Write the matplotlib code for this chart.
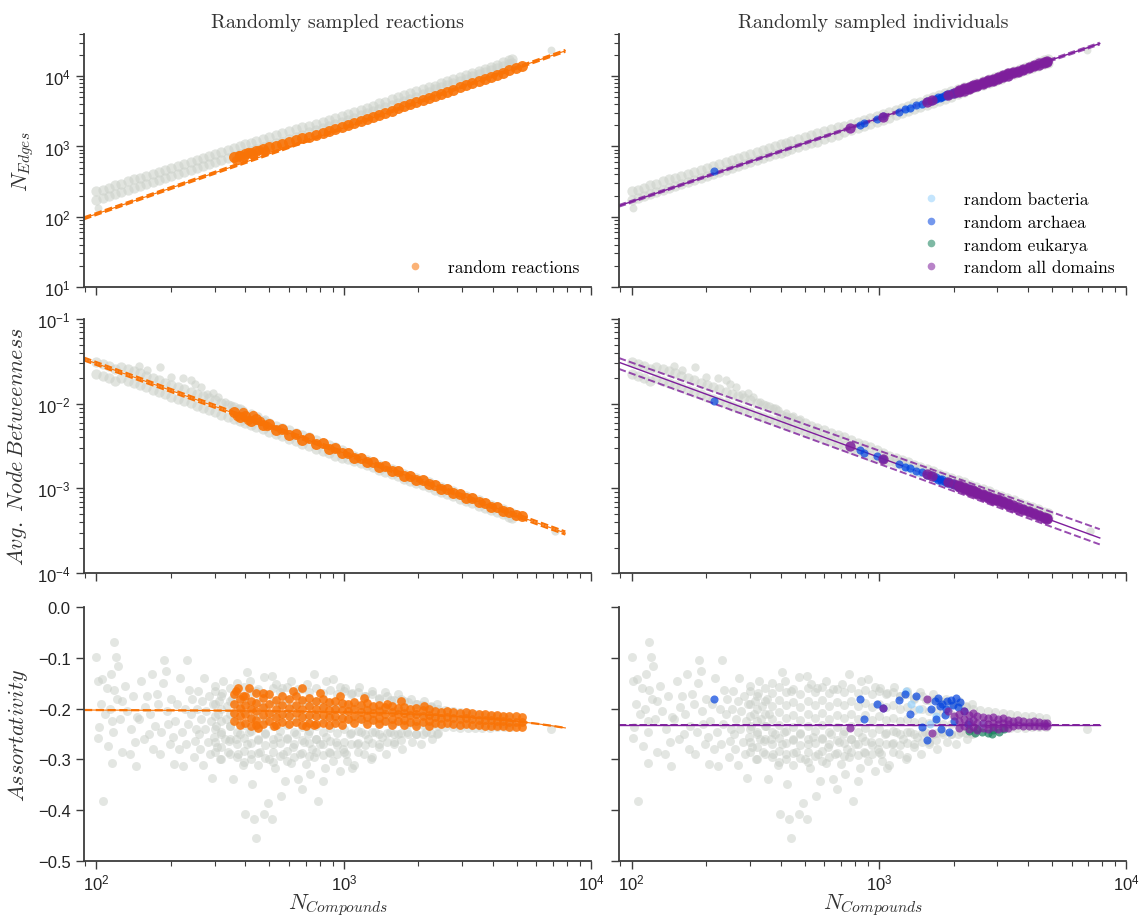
import matplotlib
matplotlib.use('Agg')
import matplotlib.pyplot as plt
from matplotlib.lines import Line2D
from matplotlib.ticker import MultipleLocator

plt.rcParams['font.family'] = ['Liberation Sans', 'DejaVu Sans']
plt.rcParams['mathtext.fontset'] = 'cm'
plt.rcParams['axes.unicode_minus'] = True

# ---------------- data ----------------
# gray background: all sampled networks, N_compounds vs metric (two rows of the band)
gray_x = [100, 106, 112, 119, 126, 134, 142, 150, 159, 169, 179, 190, 201, 213, 226, 240, 254, 269, 285, 302, 320, 340,
          360, 380, 400, 420, 440, 470, 500, 530, 560, 600, 640, 680, 720, 770, 820, 870, 920, 980,
          1040, 1100, 1170, 1240, 1310, 1390, 1470, 1560, 1650, 1750, 1850, 1960, 2080, 2200, 2330, 2470, 2620, 2770,
          2940, 3110, 3300, 3500, 3700, 3920, 4150, 4400, 4660, 4800]
gray_edges = [229, 185, 260, 211, 296, 241, 339, 274, 385, 313, 440, 356, 500, 405, 570, 463, 652, 527, 741, 600, 843, 684,
              959, 773, 1076, 861, 1194, 973, 1371, 1107, 1549, 1265, 1791, 1452, 1941, 1734, 2234, 1982, 2529, 2249,
              2884, 2564, 3327, 2965, 3802, 3404, 4365, 3908, 5012, 4487, 5754, 5129, 6637, 5888, 7328, 7031, 8453, 8035,
              9705, 9268, 11170, 10670, 12790, 12220, 14690, 14030, 16870, 15560]
gray_edges2 = [174, 244, 197, 279, 225, 318, 257, 361, 292, 412, 333, 470, 379, 533, 433, 611, 494, 695, 562, 791, 640, 902,
               728, 1019, 817, 1135, 906, 1282, 1040, 1459, 1175, 1667, 1358, 1914, 1614, 2084, 1858, 2382, 2104, 2704,
               2399, 3083, 2767, 3565, 3162, 4093, 3631, 4699, 4169, 5395, 4786, 6166, 5521, 7079, 6531, 7889, 7534,
               9016, 8650, 10400, 9954, 11970, 11400, 13710, 13090, 15740, 15030, 17460]
gray_btw = [0.0313, 0.0213, 0.0277, 0.0188, 0.0275, 0.0187, 0.0243, 0.0166, 0.0215, 0.0146, 0.0190, 0.0129, 0.0168,
            0.01146, 0.01486, 0.01009, 0.01312, 0.00895, 0.01161, 0.00793, 0.01030, 0.00700,
            0.00910, 0.00622, 0.00743, 0.00560, 0.00671, 0.00498, 0.00586, 0.00439, 0.00521, 0.00385, 0.00452, 0.00337,
            0.00400, 0.00296, 0.00348, 0.00259, 0.00308, 0.00229,
            0.00259, 0.00213, 0.00229, 0.00188, 0.00203, 0.00166, 0.00180, 0.00147, 0.00159, 0.00130, 0.00141, 0.00116,
            0.00125, 0.001026, 0.001107, 0.000906, 0.000977, 0.000804, 0.000867, 0.000710, 0.000766, 0.000628,
            0.000679, 0.000557, 0.000603, 0.000493, 0.000533, 0.000450]
gray_btw2 = [0.0226, 0.0294, 0.0201, 0.0260, 0.0200, 0.0258, 0.0176, 0.0229, 0.0156, 0.0202, 0.01374, 0.01782, 0.01219,
             0.01581, 0.01076, 0.01393, 0.00951, 0.01236, 0.00841, 0.01094, 0.00746, 0.00966,
             0.00659, 0.00859, 0.00590, 0.00705, 0.00533, 0.00627, 0.00466, 0.00552, 0.00414, 0.00484, 0.00359,
             0.00424, 0.00318, 0.00372, 0.00277, 0.00327, 0.00245, 0.00288,
             0.00225, 0.00244, 0.00199, 0.00215, 0.00177, 0.00191, 0.00157, 0.00169, 0.00139, 0.00150, 0.00123,
             0.00133, 0.001086, 0.001178, 0.000964, 0.00104, 0.000851, 0.000923, 0.000755, 0.000815, 0.000667,
             0.000721, 0.000592, 0.000640, 0.000525, 0.000566, 0.000465, 0.000516]
gray_edges_extra_x = [101, 6900]
gray_edges_extra_y = [132, 24000]
gray_btw_extra_x = [148, 160, 181, 200, 224, 240, 251, 265, 279, 295, 309, 330, 350, 372, 390, 420, 450, 480, 7100]
gray_btw_extra_y = [0.028, 0.025, 0.027, 0.021, 0.0204, 0.019, 0.0171, 0.016, 0.0130, 0.0135, 0.0120, 0.0105, 0.0098,
                    0.0090, 0.0085, 0.0078, 0.0072, 0.0066, 0.00031]
# scattered assortativity points (N_compounds, assortativity)
gray_assort = [
    (100, -0.099), (101, -0.145), (105, -0.141), (106, -0.382), (101, -0.257), (102, -0.237), (111, -0.273),
    (116, -0.306), (118, -0.069), (120, -0.099), (122, -0.115), (114, -0.132), (118, -0.164), (127, -0.184),
    (116, -0.224), (127, -0.286), (136, -0.289), (144, -0.313), (146, -0.217), (152, -0.145), (157, -0.197),
    (163, -0.25), (168, -0.132), (175, -0.171), (181, -0.289), (188, -0.105), (191, -0.125), (195, -0.23),
    (198, -0.27), (205, -0.309), (224, -0.313), (233, -0.105), (237, -0.164), (241, -0.21), (250, -0.263),
    (104, -0.19), (108, -0.21), (110, -0.16), (113, -0.2), (117, -0.245), (121, -0.18), (124, -0.22), (130, -0.155),
    (133, -0.205), (138, -0.24), (140, -0.175), (143, -0.265), (149, -0.22), (155, -0.26), (160, -0.175),
    (165, -0.21), (170, -0.28), (172, -0.235), (178, -0.19), (183, -0.245), (185, -0.15), (192, -0.205),
    (200, -0.18), (203, -0.255), (208, -0.225), (212, -0.19), (215, -0.28), (218, -0.14), (222, -0.245),
    (228, -0.2), (230, -0.27), (235, -0.23), (244, -0.18), (247, -0.295), (252, -0.24),
    (255, -0.2), (258, -0.165), (260, -0.25), (262, -0.28), (265, -0.22), (268, -0.185), (270, -0.31), (272, -0.14),
    (275, -0.24), (278, -0.205), (281, -0.265), (284, -0.175), (287, -0.29), (290, -0.225), (293, -0.336),
    (296, -0.19), (299, -0.255), (302, -0.155), (305, -0.235), (308, -0.275), (311, -0.21), (314, -0.185),
    (317, -0.3), (320, -0.245), (323, -0.17), (326, -0.145), (330, -0.26), (333, -0.22), (336, -0.195),
    (340, -0.285), (344, -0.263), (348, -0.235), (352, -0.18), (356, -0.339), (358, -0.21),
    (404, -0.128), (418, -0.145), (476, -0.138), (512, -0.135), (530, -0.151), (613, -0.145), (706, -0.151),
    (758, -0.132), (844, -0.145), (905, -0.141), (967, -0.158), (370, -0.15), (440, -0.165), (560, -0.16),
    (650, -0.162),
    (365, -0.26), (372, -0.29), (380, -0.25), (390, -0.31), (397, -0.408), (405, -0.27), (412, -0.245),
    (420, -0.3), (426, -0.349), (434, -0.418), (442, -0.454), (450, -0.26), (460, -0.285), (475, -0.408),
    (480, -0.25), (492, -0.385), (500, -0.3), (510, -0.418), (515, -0.27), (528, -0.316), (540, -0.255),
    (557, -0.372), (565, -0.29), (577, -0.342), (590, -0.26), (609, -0.306), (620, -0.275), (640, -0.25),
    (653, -0.339), (665, -0.29), (677, -0.359), (690, -0.265), (702, -0.309), (715, -0.25), (728, -0.329),
    (740, -0.28), (755, -0.296), (770, -0.26), (783, -0.382), (800, -0.27), (823, -0.342), (837, -0.316),
    (850, -0.255), (870, -0.285), (901, -0.303), (930, -0.265), (967, -0.322), (990, -0.28),
    (1010, -0.16), (1080, -0.17), (1150, -0.158), (1220, -0.175), (1300, -0.165), (1380, -0.18), (1460, -0.168),
    (1550, -0.182), (1650, -0.172), (1750, -0.185), (1860, -0.18), (1980, -0.19), (2100, -0.185), (2240, -0.195),
    (2380, -0.19),
    (1020, -0.29), (1060, -0.25), (1100, -0.31), (1130, -0.27), (1170, -0.245), (1200, -0.29), (1250, -0.26),
    (1290, -0.3), (1330, -0.245), (1380, -0.275), (1420, -0.255), (1480, -0.29), (1530, -0.245), (1590, -0.27),
    (1650, -0.25), (1720, -0.28), (1800, -0.245), (1880, -0.265), (1960, -0.25), (2050, -0.27), (2150, -0.245),
    (2260, -0.26), (2380, -0.25),
    (1030, -0.303), (1080, -0.316), (1297, -0.296), (6900, -0.24),
]
# dense core of the assortativity cloud: N_compounds followed by the values at that N
gray_assort_core = [
    (300, -0.165, -0.19, -0.215, -0.24, -0.265, -0.285), (320, -0.175, -0.2, -0.225, -0.25, -0.275, -0.3),
    (345, -0.16, -0.185, -0.21, -0.235, -0.26, -0.29), (370, -0.17, -0.195, -0.22, -0.245, -0.27, -0.295),
    (395, -0.158, -0.182, -0.207, -0.232, -0.258, -0.283, -0.305), (420, -0.168, -0.193, -0.218, -0.243, -0.268, -0.29),
    (450, -0.162, -0.187, -0.212, -0.237, -0.262, -0.287, -0.31), (480, -0.172, -0.197, -0.222, -0.247, -0.272, -0.297),
    (515, -0.16, -0.185, -0.21, -0.235, -0.26, -0.285, -0.305), (550, -0.168, -0.193, -0.218, -0.243, -0.268, -0.293),
    (590, -0.158, -0.183, -0.208, -0.233, -0.258, -0.283, -0.303), (630, -0.17, -0.195, -0.22, -0.245, -0.27, -0.295),
    (675, -0.162, -0.187, -0.212, -0.237, -0.262, -0.287), (720, -0.168, -0.193, -0.218, -0.243, -0.268, -0.293),
    (770, -0.16, -0.185, -0.21, -0.235, -0.26, -0.285), (825, -0.17, -0.195, -0.22, -0.245, -0.27, -0.292),
    (880, -0.163, -0.188, -0.213, -0.238, -0.263, -0.288), (940, -0.172, -0.197, -0.222, -0.247, -0.272, -0.29),
    (1000, -0.166, -0.19, -0.215, -0.24, -0.265, -0.285), (1070, -0.172, -0.197, -0.222, -0.247, -0.27),
    (1140, -0.168, -0.193, -0.218, -0.243, -0.268, -0.285), (1220, -0.175, -0.2, -0.225, -0.25, -0.272),
    (1300, -0.172, -0.196, -0.22, -0.245, -0.268), (1390, -0.178, -0.202, -0.226, -0.25, -0.27),
    (1490, -0.176, -0.2, -0.224, -0.248, -0.266), (1590, -0.182, -0.205, -0.228, -0.25, -0.265),
    (1700, -0.18, -0.203, -0.226, -0.248, -0.262), (1820, -0.186, -0.208, -0.23, -0.25),
    (1950, -0.19, -0.21, -0.23, -0.25), (2090, -0.193, -0.212, -0.232, -0.25), (2240, -0.196, -0.215, -0.233, -0.248),
    (2400, -0.2, -0.218, -0.235, -0.248), (2570, -0.202, -0.219, -0.236), (2750, -0.204, -0.22, -0.237),
    (2950, -0.206, -0.222, -0.238), (3160, -0.208, -0.223, -0.238), (3380, -0.21, -0.224, -0.238),
    (3620, -0.212, -0.225, -0.238), (3880, -0.214, -0.226, -0.238), (4150, -0.215, -0.227, -0.237),
    (4450, -0.217, -0.228, -0.237), (4750, -0.218, -0.229, -0.236),
]

# orange: randomly sampled reactions
orange_x = [360, 380, 400, 420, 440, 470, 500, 530, 560, 600, 640, 680, 720, 770, 820, 870, 920, 980,
            1040, 1100, 1170, 1240, 1310, 1390, 1470, 1560, 1650, 1750, 1850, 1960, 2080, 2200, 2330, 2470,
            2620, 2770, 2940, 3110, 3300, 3500, 3700, 3920, 4150, 4400, 4660, 4940, 5230]
orange_edges = [702, 740, 778, 815, 853, 910, 968, 1023, 1081, 1156, 1233, 1309, 1380, 1476, 1570, 1663, 1758, 1866,
                1997, 2133, 2300, 2466, 2630, 2831, 3027, 3250, 3475, 3733, 3981, 4268, 4592, 4909, 5260, 5645,
                6053, 6471, 6950, 7447, 7998, 8570, 9162, 9817, 10520, 11270, 12080, 12970, 13870]
orange_btw = [0.00811, 0.00698, 0.00726, 0.00628, 0.00656, 0.00558, 0.00573, 0.00492, 0.00509, 0.00432, 0.00442,
              0.00378, 0.00391, 0.00332, 0.00340, 0.00291, 0.00298, 0.00260,
              0.00262, 0.00231, 0.00231, 0.00203, 0.00206, 0.00180, 0.00182, 0.00160, 0.00161, 0.00141, 0.00141,
              0.00127, 0.00125, 0.00112, 0.00111, 0.000993, 0.000977, 0.000881, 0.000867, 0.000778, 0.000766,
              0.000689, 0.000679, 0.000611, 0.000603, 0.000541, 0.000533, 0.000479, 0.000472]
orange_edges_extra_x = [365, 375, 395, 410, 430, 455, 480]
orange_edges_extra_y = [640, 760, 700, 840, 780, 900, 860]
orange_btw_extra_x = [370, 390, 410, 430, 460, 490]
orange_btw_extra_y = [0.0072, 0.0081, 0.0064, 0.0074, 0.0062, 0.0054]
# rows: N_compounds, assortativity values at that N
orange_assort = [
    (360, -0.172, -0.19, -0.208, -0.224), (380, -0.18, -0.198, -0.215, -0.232), (400, -0.175, -0.193, -0.21, -0.228),
    (420, -0.185, -0.2, -0.218, -0.235), (440, -0.17, -0.188, -0.205, -0.222), (470, -0.178, -0.196, -0.213, -0.23),
    (500, -0.172, -0.19, -0.208, -0.225), (530, -0.182, -0.2, -0.216, -0.232), (560, -0.176, -0.193, -0.21, -0.227),
    (600, -0.18, -0.198, -0.214, -0.23), (640, -0.175, -0.192, -0.209, -0.226), (680, -0.183, -0.2, -0.216, -0.232),
    (720, -0.178, -0.195, -0.212, -0.228), (770, -0.185, -0.2, -0.215, -0.23), (820, -0.18, -0.196, -0.212, -0.228),
    (870, -0.187, -0.202, -0.217, -0.232), (920, -0.184, -0.2, -0.215, -0.229), (980, -0.188, -0.203, -0.218, -0.232),
    (1040, -0.19, -0.205, -0.22), (1100, -0.186, -0.2, -0.215, -0.229), (1170, -0.192, -0.206, -0.221),
    (1240, -0.189, -0.203, -0.217, -0.23), (1310, -0.194, -0.208, -0.222), (1390, -0.192, -0.205, -0.219, -0.231),
    (1470, -0.196, -0.21, -0.224), (1560, -0.194, -0.207, -0.22, -0.232), (1650, -0.198, -0.211, -0.225),
    (1750, -0.197, -0.209, -0.222, -0.233), (1850, -0.2, -0.213, -0.226), (1960, -0.199, -0.211, -0.224, -0.234),
    (2080, -0.202, -0.214, -0.227), (2200, -0.201, -0.213, -0.225, -0.235), (2330, -0.204, -0.216, -0.228),
    (2470, -0.206, -0.218, -0.23), (2620, -0.205, -0.217, -0.229), (2770, -0.207, -0.219, -0.231),
    (2940, -0.208, -0.22, -0.232), (3110, -0.207, -0.219, -0.231), (3300, -0.209, -0.221, -0.233),
    (3500, -0.21, -0.222, -0.233), (3700, -0.211, -0.222, -0.234), (3920, -0.212, -0.223, -0.234),
    (4150, -0.213, -0.224, -0.235), (4400, -0.214, -0.225, -0.235), (4660, -0.215, -0.226, -0.236),
    (4940, -0.215, -0.226, -0.236), (5230, -0.216, -0.227, -0.236),
    (365, -0.165), (372, -0.16), (390, -0.175), (413, -0.16), (450, -0.238), (440, -0.232), (470, -0.17),
    (520, -0.235), (620, -0.165), (680, -0.159), (700, -0.235), (760, -0.233), (800, -0.17), (960, -0.175),
    (1200, -0.178), (1500, -0.19), (1700, -0.185), (2100, -0.195),
]

# randomly sampled individuals
bact_x = [1290, 1350, 1450, 1600, 1700, 1900, 2300, 2600]
bact_edges = [3443, 3625, 3948, 4437, 4766, 5458, 6839, 7907]
bact_btw = [0.00179, 0.00171, 0.00158, 0.00142, 0.00133, 0.00118, 0.000964, 0.000847]
bact_assort = [-0.165, -0.19, -0.2, -0.23, -0.215, -0.2, -0.225, -0.23]

arch_x = [216, 840, 871, 984, 1035, 1208, 1271, 1340, 1410, 1486, 1563, 1618, 1680, 1700, 1734, 1760, 1780, 1800,
          1850, 1870, 1888, 1920, 1950, 1990, 2000, 2050, 2080, 2130, 2200, 2280]
arch_edges = [454, 1990, 2180, 2440, 2700, 3110, 3440, 3530, 3900, 3980, 4400, 4410, 4790, 4670, 4990, 4880, 5140,
              5000, 5380, 5240, 5520, 5400, 5740, 5640, 5900, 5850, 6190, 6110, 6620, 6630]
arch_btw = [0.0109, 0.00283, 0.00262, 0.00245, 0.00222, 0.00196, 0.00178, 0.00176, 0.00160, 0.00158, 0.00143, 0.00143,
            0.00132, 0.00136, 0.00127, 0.00131, 0.00124, 0.00128, 0.00119, 0.00123, 0.00116, 0.00120, 0.00112, 0.00115,
            0.00109, 0.00111, 0.00105, 0.00107, 0.00099, 0.00100]
arch_assort = [-0.180, -0.180, -0.220, -0.1915, -0.1995, -0.1836, -0.1717, -0.211, -0.175, -0.236, -0.261, -0.200,
               -0.185, -0.220, -0.178, -0.195, -0.240, -0.190, -0.212, -0.200, -0.185, -0.245, -0.183, -0.192, -0.225,
               -0.178, -0.196, -0.186, -0.205, -0.230]

euk_x = [2300, 2450, 2500, 2600, 2750, 2850, 2900, 3050, 3200]
euk_edges = [6839, 7370, 7551, 7907, 8453, 8820, 9010, 9570, 10130]
euk_btw = [0.000964, 0.000902, 0.000881, 0.000847, 0.000798, 0.000769, 0.000756, 0.000716, 0.000679]
euk_assort = [-0.243, -0.248, -0.24, -0.245, -0.247, -0.25, -0.242, -0.245, -0.24]

all_x = [760, 1040, 1560, 1640, 1900, 2000, 2100, 2100, 2100, 2200, 2200, 2200, 2300, 2300, 2300, 2400, 2400, 2400,
         2500, 2500, 2500, 2620, 2620, 2620, 2750, 2750, 2750, 2880, 2880, 2880, 3020, 3020, 3020, 3170, 3170, 3170,
         3320, 3320, 3320, 3480, 3480, 3650, 3650, 3830, 3830, 4020, 4020, 4220, 4220, 4430, 4430, 4650, 4650,
         4780, 4780]
all_edges = [1832, 2661, 4306, 4571, 5458, 5781, 5920, 6140, 6350, 6260, 6490, 6710, 6600, 6840, 7080, 6940, 7190,
             7450, 7290, 7550, 7820, 7700, 7980, 8260, 8160, 8450, 8750, 8620, 8930, 9250, 9130, 9460, 9790, 9670,
             10020, 10370, 10220, 10590, 10960, 11000, 11440, 11600, 12060, 12290, 12780, 13020, 13540, 13790,
             14340, 14600, 15190, 15470, 16090, 16010, 16650]
all_btw = [0.00315, 0.002254, 0.001462, 0.001384, 0.001183, 0.001119, 0.001035, 0.001064, 0.001094, 0.000985,
           0.001012, 0.00104, 0.000938, 0.000964, 0.000991, 0.000898, 0.000923, 0.000949, 0.000857, 0.000881,
           0.000906, 0.000816, 0.000839, 0.000862, 0.000776, 0.000798, 0.00082, 0.00074, 0.00076, 0.000781,
           0.000702, 0.000721, 0.000741, 0.000667, 0.000685, 0.000704, 0.000634, 0.000652, 0.00067, 0.000607,
           0.000631, 0.000579, 0.000602, 0.000549, 0.000571, 0.000522, 0.000543, 0.000495, 0.000515, 0.000471,
           0.00049, 0.000446, 0.000464, 0.000433, 0.000451]
all_assort = [-0.239, -0.198, -0.181, -0.248, -0.205, -0.215,
              -0.21, -0.225, -0.238, -0.205, -0.22, -0.235, -0.212, -0.226, -0.24, -0.208, -0.222, -0.236,
              -0.214, -0.228, -0.242, -0.216, -0.228, -0.238, -0.218, -0.23, -0.24, -0.217, -0.228, -0.237,
              -0.22, -0.23, -0.24, -0.219, -0.229, -0.238, -0.222, -0.231, -0.238,
              -0.224, -0.234, -0.223, -0.233, -0.225, -0.234, -0.226, -0.235, -0.225, -0.234, -0.227, -0.235,
              -0.228, -0.235, -0.229, -0.234]

# fitted lines (fit, lower, upper) read at the line ends
rxn_fit_x = [89, 7850]
rxn_edges_fit = [[95, 23000], [92, 22300], [98, 23700]]
rxn_btw_fit = [[0.0338, 2.97e-4], [0.0325, 2.85e-4], [0.0352, 3.1e-4]]
rxn_assort_fit_x = [89, 300, 600, 1000, 1500, 2000, 3000, 4000, 5000, 6000, 7000, 7850]
rxn_assort_fit = [-0.2026, -0.2036, -0.205, -0.2068, -0.209, -0.2113, -0.2158, -0.2204, -0.2249, -0.2295, -0.234,
                  -0.2379]
ind_fit_x = [89, 7800]
ind_edges_fit = [[143, 29200], [139, 28300], [147, 30100]]
ind_btw_fit = [[0.0309, 2.6e-4], [0.0258, 2.18e-4], [0.0347, 3.3e-4]]
ind_assort_fit = [[-0.233, -0.233], [-0.233, -0.233], [-0.233, -0.233]]

titles = ['Randomly sampled reactions', 'Randomly sampled individuals']
ylabels = [r'$N_{Edges}$', r'$Avg.\ Node\,Betweenness$', r'$Assortativity$']

# ---------------- style ----------------
GRAY = '#cdd2cb'
ORANGE = '#f97306'
PURPLE = '#7e1e9c'
BLUE = '#0343df'
LIGHTBLUE = '#95d0fc'
GREEN = '#15805a'
SPINE = '#3d3d3d'
serif = {'family': 'cmr10', 'size': 12.5}

fig = plt.figure(figsize=(11.39, 9.2), dpi=100)
col_x = [0.0737, 0.5435]
width = 0.4455
rows = [(0.687, 0.275), (0.376, 0.276), (0.063, 0.276)]
axes = [[fig.add_axes([cx, rb, width, rh]) for cx in col_x] for rb, rh in rows]

for r in range(3):
    for c in range(2):
        ax = axes[r][c]
        ax.set_xscale('log')
        if r < 2:
            ax.set_yscale('log')
        ax.spines[['top', 'right']].set_visible(False)
        for s in ['left', 'bottom']:
            ax.spines[s].set_color(SPINE)
            ax.spines[s].set_linewidth(1.3)
        ax.tick_params(which='major', direction='out', length=6, width=1.0, color=SPINE,
                       labelsize=12, labelcolor='#222222')
        ax.tick_params(which='minor', direction='out', length=3.5, width=0.8, color=SPINE)
        ax.tick_params(axis='x', which='major', pad=2)
        if r < 2:
            ax.tick_params(axis='x', which='both', labelbottom=False)
        if c == 1:
            ax.tick_params(axis='y', which='both', labelleft=False)

gkw = dict(color=GRAY, alpha=0.6, linewidths=0, zorder=1)

ga_x = [p[0] for p in gray_assort]
ga_y = [p[1] for p in gray_assort]
for row in gray_assort_core:
    for v in row[1:]:
        ga_x.append(row[0])
        ga_y.append(v)
oa_x, oa_y = [], []
for row in orange_assort:
    for v in row[1:]:
        oa_x.append(row[0])
        oa_y.append(v)


def draw_gray(ax, r):
    if r == 0:
        ax.scatter(gray_x, gray_edges, s=55, **gkw)
        ax.scatter(gray_x, gray_edges2, s=55, **gkw)
        ax.scatter(gray_edges_extra_x, gray_edges_extra_y, s=32, **gkw)
    elif r == 1:
        ax.scatter(gray_x, gray_btw, s=55, **gkw)
        ax.scatter(gray_x, gray_btw2, s=55, **gkw)
        ax.scatter(gray_btw_extra_x, gray_btw_extra_y, s=36, **gkw)
    else:
        ax.scatter(ga_x, ga_y, s=42, color='#c9cec7', alpha=0.5, linewidths=0, zorder=1)


# ---- left column: random reactions ----
ax = axes[0][0]
draw_gray(ax, 0)
ax.plot(rxn_fit_x, rxn_edges_fit[0], color=ORANGE, lw=0.8, zorder=2)
for yy in rxn_edges_fit[1:]:
    ax.plot(rxn_fit_x, yy, color=ORANGE, lw=1.5, ls='--', zorder=2)
ax.scatter(orange_x, orange_edges, s=62, color=ORANGE, alpha=0.9, linewidths=0, zorder=3)
ax.scatter(orange_edges_extra_x, orange_edges_extra_y, s=45, color=ORANGE, alpha=0.85, linewidths=0, zorder=3)

ax = axes[1][0]
draw_gray(ax, 1)
ax.plot(rxn_fit_x, rxn_btw_fit[0], color=ORANGE, lw=0.8, zorder=2)
for yy in rxn_btw_fit[1:]:
    ax.plot(rxn_fit_x, yy, color=ORANGE, lw=1.5, ls='--', zorder=2)
ax.scatter(orange_x, orange_btw, s=62, color=ORANGE, alpha=0.9, linewidths=0, zorder=3)
ax.scatter(orange_btw_extra_x, orange_btw_extra_y, s=45, color=ORANGE, alpha=0.85, linewidths=0, zorder=3)

ax = axes[2][0]
draw_gray(ax, 2)
ax.plot(rxn_assort_fit_x, rxn_assort_fit, color=ORANGE, lw=0.8, zorder=2)
ax.plot(rxn_assort_fit_x, rxn_assort_fit, color=ORANGE, lw=1.6, ls='--', zorder=2)
ax.scatter(oa_x, oa_y, s=40, color=ORANGE, alpha=0.85, linewidths=0, zorder=3)

# ---- right column: random individuals ----
ind_series = [
    (bact_x, [bact_edges, bact_btw, bact_assort], LIGHTBLUE, 'random bacteria'),
    (arch_x, [arch_edges, arch_btw, arch_assort], BLUE, 'random archaea'),
    (euk_x, [euk_edges, euk_btw, euk_assort], GREEN, 'random eukarya'),
    (all_x, [all_edges, all_btw, all_assort], PURPLE, 'random all domains'),
]
ind_fits = [ind_edges_fit, ind_btw_fit, ind_assort_fit]

for r in range(3):
    ax = axes[r][1]
    draw_gray(ax, r)
    fit = ind_fits[r]
    ax.plot(ind_fit_x, fit[0], color=PURPLE, lw=1.0, zorder=2)
    for yy in fit[1:]:
        ax.plot(ind_fit_x, yy, color=PURPLE, lw=1.4, ls='--', alpha=0.8, zorder=2)
    for xs, ys, col, lab in ind_series:
        if col == PURPLE and r < 2:
            ax.scatter(xs, ys[r], s=55, color=col, alpha=0.85, linewidths=0, zorder=3)
        else:
            ax.scatter(xs, ys[r], s=34, color=col, alpha=0.7, linewidths=0, zorder=3)

# ---- limits, ticks, labels ----
for c in range(2):
    for r in range(3):
        axes[r][c].set_xlim(89, 1e4)
    axes[0][c].set_ylim(10, 4e4)
    axes[1][c].set_ylim(1e-4, 1e-1)
    axes[2][c].set_ylim(-0.5, 0.0)
    axes[2][c].yaxis.set_major_locator(MultipleLocator(0.1))
    axes[0][c].set_title(titles[c], fontfamily='cmr10', fontsize=14.5, color='#333333', pad=5)
    axes[2][c].set_xlabel(r'$N_{Compounds}$', fontsize=16, color='#333333', labelpad=-1)
for r in range(3):
    axes[r][0].set_ylabel(ylabels[r], fontsize=16, color='#333333', labelpad=6)

# ---- legends ----
h_left = [Line2D([], [], marker='o', ls='', color=ORANGE, alpha=0.55, markersize=5.5, markeredgewidth=0)]
axes[0][0].legend(h_left, ['random reactions'], loc='lower right', frameon=False, prop=serif,
                  handletextpad=0.9, borderaxespad=0.3)
h_right = [Line2D([], [], marker='o', ls='', color=col, alpha=0.55, markersize=5.5, markeredgewidth=0)
           for _, _, col, _ in ind_series]
axes[0][1].legend(h_right, [s[3] for s in ind_series], loc='lower right', frameon=False, prop=serif,
                  handletextpad=0.9, labelspacing=0.4, borderaxespad=0.3)

plt.savefig('out.png', dpi=100)
